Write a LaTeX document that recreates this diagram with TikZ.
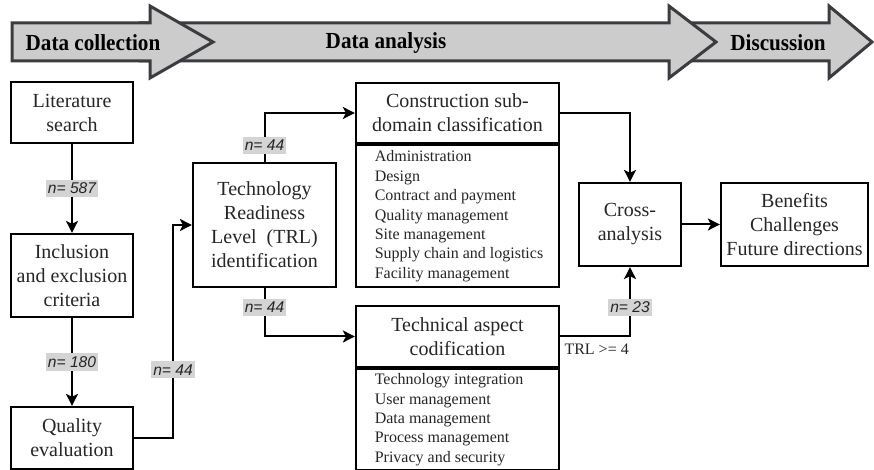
\documentclass[tikz,border=0pt]{standalone}
\usepackage{fontspec}
\setmainfont{Liberation Serif}
\setsansfont{Liberation Sans}
\usepackage{graphicx}
\usepackage{tikz}
\usetikzlibrary{positioning,arrows.meta}
\definecolor{stagegray}{HTML}{CCCCCC}
\definecolor{stagedark}{HTML}{3A3C40}
\definecolor{labgray}{HTML}{D4D4D4}

\tikzset{
  box/.style={draw, line width=1.1pt, align=center, inner sep=0pt, text=black!85,
    font=\rmfamily\fontsize{10}{12}\selectfont},
  items/.style={align=left, inner sep=0pt, text=black!85,
    font=\rmfamily\fontsize{8}{9.7}\selectfont},
  nlab/.style={fill=labgray, text=black!85, inner xsep=1pt, inner ysep=1.5pt,
    font=\sffamily\itshape\fontsize{7.8}{9}\selectfont},
  arr/.style={line width=1pt, -{Stealth[length=6pt,width=6pt,inset=1.5pt]}},
  stage/.style={draw=stagedark, fill=stagegray, line width=1.5pt, line join=miter},
  stagetext/.style={font=\rmfamily\bfseries\fontsize{11.5}{13}\selectfont}
}

\begin{document}
\begin{tikzpicture}[x=0.5pt, y=-0.5pt]
  \useasboundingbox (0,0) rectangle (874,470);

  % Stage banner
  \draw[stage] (685,23) -- (829,23) -- (829,6) -- (872,42) -- (829,78) -- (829,61) -- (685,61) -- cycle;
  \draw[stage] (140,23) -- (669,23) -- (669,6) -- (716,42) -- (669,78) -- (669,61) -- (140,61) -- cycle;
  \draw[stage] (12,23) -- (150,23) -- (150,6) -- (213,42) -- (150,78) -- (150,61) -- (12,61) -- cycle;
  \node[stagetext] (collect) at (93,43) {\scalebox{0.92}[1]{Data collection}};
  \node[stagetext] (analyse) at (386,43) {\scalebox{0.92}[1]{Data analysis}};
  \node[stagetext] (discuss) at (778,43) {\scalebox{0.92}[1]{Discussion}};

  % Define nodes
  \node[box, minimum width=61pt, minimum height=30.5pt] (lit) at (72,112.5) {Literature\\search};
  \node[box, minimum width=61pt, minimum height=41.5pt] (incl) at (72,275.5) {Inclusion\\and exclusion\\criteria};
  \node[box, minimum width=61pt, minimum height=31pt] (qual) at (72,438) {Quality\\evaluation};
  \node[box, minimum width=71.5pt, minimum height=62pt] (trl) at (264.5,225) {Technology\\Readiness\\Level~ (TRL)\\identification};

  \node[box, minimum width=101.5pt, minimum height=30pt] (csd) at (457.5,113) {Construction sub-\\domain classification};
  \node[box, minimum width=101.5pt, minimum height=71pt, below=0pt of csd] (csdlist) {};
  \node[items, anchor=west] (csdtext) at ([xshift=9.75pt]csdlist.west)
    {Administration\\Design\\Contract and payment\\Quality management\\Site management\\Supply chain and logistics\\Facility management};

  \node[box, minimum width=101.5pt, minimum height=30.5pt] (tac) at (457.5,336.5) {Technical aspect\\codification};
  \node[box, minimum width=101.5pt, minimum height=50.5pt, below=0pt of tac] (taclist) {};
  \node[items, anchor=west] (tactext) at ([xshift=9.75pt]taclist.west)
    {Technology integration\\User management\\Data management\\Process management\\Privacy and security};

  \node[box, minimum width=51pt, minimum height=41.5pt] (cross) at (630,224.5) {Cross-\\analysis};
  \node[box, minimum width=73.5pt, minimum height=41.5pt] (ben) at (794.5,224.5) {Benefits\\Challenges\\Future directions};

  % Connectors
  \coordinate (qt) at (173,0);
  \draw[arr] (lit) -- node[nlab] {n= 587} (incl);
  \draw[arr] (incl) -- node[nlab] {n= 180} (qual);
  \draw[arr] (qual.east) -| (qt |- trl.west) node[nlab, pos=0.66] {n= 44} -- (trl.west);
  \draw[arr] (trl.north) |- node[nlab, pos=0.17] {n= 44} (csd.west);
  \draw[arr] (trl.south) |- node[nlab, pos=0.2] {n= 44} (tac.west);
  \draw[arr] (csd.east) -| (cross.north);
  \draw[arr] (tac.east) -| node[nlab, pos=0.71] {n= 23} (cross.south);
  \node[font=\rmfamily\fontsize{8}{9.7}\selectfont, text=black!85, anchor=north west, inner sep=2pt, yshift=-1.5pt] (trlfour) at (tac.east) {TRL >= 4};
  \draw[arr] (cross) -- (ben);
\end{tikzpicture}
\end{document}
